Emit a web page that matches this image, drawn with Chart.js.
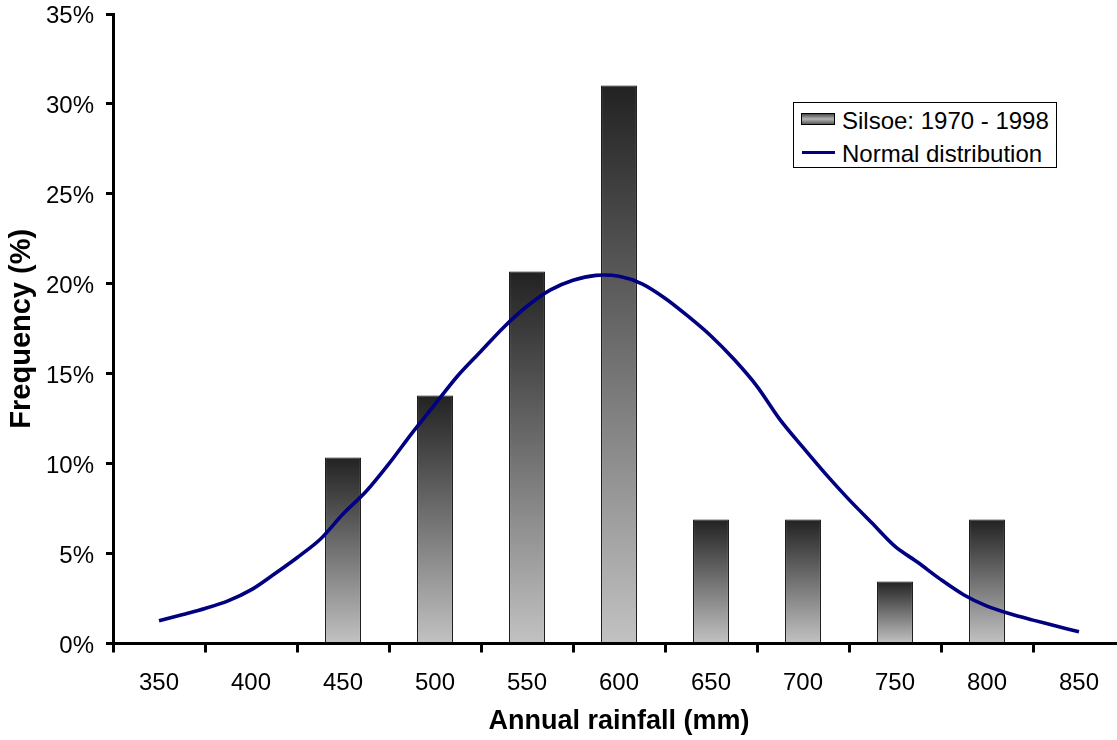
<!DOCTYPE html>
<html>
<head>
<meta charset="utf-8">
<script src="https://cdn.jsdelivr.net/npm/chart.js@4.4.1/dist/chart.umd.min.js"></script>
<style>
  html, body { margin: 0; padding: 0; overflow: hidden; background: #fff; width: 1117px; height: 740px; }
  #wrap { position: absolute; left: 0; top: 0; width: 1140px; height: 740px; }
  #legend { position: absolute; left: 793px; top: 102px; width: 262px; height: 64px; border: 1px solid #000; background: #fff; font-family: "Liberation Sans", Arial, sans-serif; font-size: 24px; color: #000; }
  .lt { position: absolute; line-height: 24px; white-space: nowrap; }
  #sym1 { position: absolute; left: 7px; top: 10px; width: 32px; height: 10px; border: 1px solid #000; background: linear-gradient(to bottom, #4a4a4a, #b4b4b4 50%, #5a5a5a); }
  #sym2 { position: absolute; left: 8px; top: 48px; width: 33px; height: 3px; background: #000080; }
</style>
</head>
<body>
<div id="wrap">
  <canvas id="c" width="1140" height="740"></canvas>
  <div id="legend">
    <div id="sym1"></div>
    <span class="lt" style="left:48px; top:6px;">Silsoe: 1970 - 1998</span>
    <div id="sym2"></div>
    <span class="lt" style="left:48px; top:39px;">Normal distribution</span>
  </div>
</div>
<script>
// Categories (annual rainfall, mm)
const categories = ['350', '400', '450', '500', '550', '600', '650', '700', '750', '800', '850'];
// Observed frequency (%) Silsoe 1970-1998
const silsoeFreq = [null, null, 10.34, 13.79, 20.69, 31.03, 6.90, 6.90, 3.45, 6.90, null];
// Normal distribution curve
const normalX = [350, 362.5, 375, 387.5, 400, 412.5, 425, 437.5, 450, 462.5, 475, 487.5, 500, 512.5, 525, 537.5, 550, 562.5, 575, 587.5, 600, 612.5, 625, 637.5, 650, 662.5, 675, 687.5, 700, 712.5, 725, 737.5, 750, 762.5, 775, 787.5, 800, 812.5, 825, 837.5, 850];
const normalY = [1.26, 1.6, 1.95, 2.37, 2.98, 3.85, 4.77, 5.78, 7.2, 8.45, 10.0, 11.7, 13.3, 14.9, 16.25, 17.6, 18.75, 19.65, 20.2, 20.47, 20.42, 20.0, 19.2, 18.2, 17.1, 15.8, 14.3, 12.45, 10.9, 9.4, 8.0, 6.7, 5.4, 4.5, 3.55, 2.7, 2.08, 1.65, 1.3, 0.97, 0.65];
// Y tick settings
const yMin = 0, yMax = 35, yStep = 5;

const FONT = '"Liberation Sans", Arial, sans-serif';

const lineData = normalX.map((x, i) => ({ x: x, y: normalY[i] }));

function barGradient(ctx) {
  const chart = ctx.chart;
  const area = chart.chartArea;
  if (!area || ctx.type !== 'data' || ctx.raw == null) return '#808080';
  const ys = chart.scales.y;
  const top = ys.getPixelForValue(ctx.raw);
  const bot = ys.getPixelForValue(0);
  const g = chart.ctx.createLinearGradient(0, top, 0, bot);
  g.addColorStop(0, '#222222');
  g.addColorStop(1, '#c2c2c2');
  return g;
}

new Chart(document.getElementById('c'), {
  data: {
    labels: categories,
    datasets: [
      {
        type: 'line',
        label: 'Normal distribution',
        data: lineData,
        xAxisID: 'xl',
        yAxisID: 'y',
        borderColor: '#000080',
        borderWidth: 3.6,
        pointRadius: 0,
        tension: 0.3,
        fill: false,
        order: 0
      },
      {
        type: 'bar',
        label: 'Silsoe: 1970 - 1998',
        data: silsoeFreq,
        xAxisID: 'x',
        yAxisID: 'y',
        grouped: false,
        backgroundColor: barGradient,
        borderColor: '#000000',
        borderWidth: 1,
        borderSkipped: false,
        categoryPercentage: 1.0,
        barPercentage: 0.39,
        order: 1
      }
    ]
  },
  options: {
    responsive: false,
    animation: false,
    devicePixelRatio: 1,
    layout: { padding: { left: 0, right: 15, top: 14, bottom: 0 } },
    plugins: { legend: { display: false }, tooltip: { enabled: false } },
    scales: {
      x: {
        type: 'category',
        offset: true,
        grid: { display: true, offset: true, drawOnChartArea: false, drawTicks: true, tickLength: 9, tickWidth: 3, tickColor: '#000' },
        border: { display: true, color: '#000', width: 3 },
        ticks: { color: '#000', font: { family: FONT, size: 24 }, padding: 16, maxRotation: 0, autoSkip: false },
        title: { display: true, text: 'Annual rainfall (mm)', color: '#000', font: { family: FONT, size: 27, weight: 'bold' }, padding: { top: 0, bottom: 2 } },
        afterFit: (s) => { s.height = 96.5; s.paddingLeft = 0; s.paddingRight = 0; }
      },
      xl: {
        type: 'linear',
        display: false,
        offset: false,
        grid: { offset: false },
        min: 325,
        max: 875
      },
      y: {
        type: 'linear',
        min: yMin,
        max: yMax,
        grid: { display: true, drawOnChartArea: false, drawTicks: true, tickLength: 7, tickWidth: 3, tickColor: '#000' },
        border: { display: true, color: '#000', width: 3 },
        ticks: { stepSize: yStep, color: '#000', font: { family: FONT, size: 24 }, padding: 12, labelOffset: 2.5, callback: (v) => v + '%' },
        title: { display: true, text: 'Frequency (%)', color: '#000', font: { family: FONT, size: 29, weight: 'bold' }, padding: { top: 5, bottom: 0 } },
        afterFit: (s) => { s.width = 113; s.paddingTop = 0; s.paddingBottom = 0; }
      }
    }
  }
});
</script>
</body>
</html>
